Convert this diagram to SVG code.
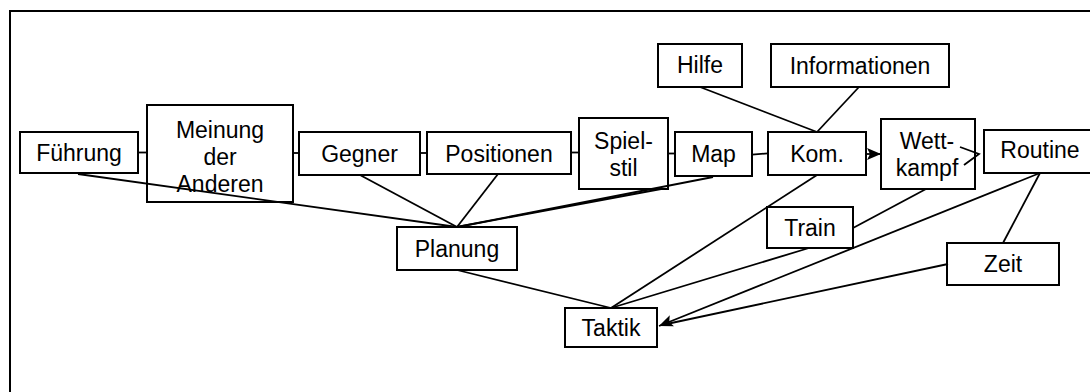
<svg xmlns="http://www.w3.org/2000/svg" width="1090" height="392" viewBox="0 0 1090 392">
<style>
.box{fill:#fff;stroke:#000;stroke-width:2}
.t{font-family:"Liberation Sans",Arial,sans-serif;font-size:23px;fill:#000;text-anchor:middle}
.c line,.c path{stroke:#000;stroke-width:1.8;fill:none}
</style>
<defs>
<marker id="ah" markerUnits="userSpaceOnUse" markerWidth="16" markerHeight="14" refX="14" refY="6" orient="auto">
<path d="M0,0 L14,6 L0,12 L3,6 Z" fill="#000"/>
</marker>
</defs>
<rect x="10" y="11" width="1100" height="400" fill="#fff" stroke="#000" stroke-width="2"/>
<g id="fuehrung"><rect class="box" x="20" y="132" width="118" height="41"/><text class="t" x="79" y="160.5">Führung</text></g>
<g id="meinung"><rect class="box" x="147" y="105" width="146" height="97"/><text class="t" x="220" y="138.3">Meinung</text><text class="t" x="220" y="165">der</text><text class="t" x="220" y="191.7">Anderen</text></g>
<g id="gegner"><rect class="box" x="299" y="132" width="121" height="43"/><text class="t" x="359.5" y="161.7">Gegner</text></g>
<g id="positionen"><rect class="box" x="427" y="132" width="144" height="42"/><text class="t" x="499" y="161.7">Positionen</text></g>
<g id="spielstil"><rect class="box" x="579" y="118" width="89" height="71"/><text class="t" x="623.5" y="149.3">Spiel-</text><text class="t" x="623.5" y="176">stil</text></g>
<g id="map"><rect class="box" x="675" y="132" width="77" height="44"/><text class="t" x="713.5" y="162">Map</text></g>
<g id="kom"><rect class="box" x="768" y="132" width="98" height="43"/><text class="t" x="817" y="161.7">Kom.</text></g>
<g id="hilfe"><rect class="box" x="658" y="44" width="84" height="43"/><text class="t" x="700" y="73.3">Hilfe</text></g>
<g id="informationen"><rect class="box" x="771" y="44" width="178" height="43"/><text class="t" x="860" y="74">Informationen</text></g>
<g id="wettkampf"><rect class="box" x="881" y="119" width="94" height="70"/><text class="t" x="927" y="149">Wett-</text><text class="t" x="927" y="175.7">kampf</text></g>
<g id="routine"><rect class="box" x="984" y="130" width="112" height="43"/><text class="t" x="1040" y="157.5">Routine</text></g>
<g id="train"><rect class="box" x="767" y="207" width="86" height="41"/><text class="t" x="810" y="236">Train</text></g>
<g id="zeit"><rect class="box" x="947" y="243" width="112" height="42"/><text class="t" x="1003" y="272">Zeit</text></g>
<g id="planung"><rect class="box" x="397" y="227" width="120" height="43"/><text class="t" x="457" y="256.5">Planung</text></g>
<g id="taktik"><rect class="box" x="565" y="308" width="92" height="39"/><text class="t" x="611" y="335.5">Taktik</text></g>
<g class="c" id="connectors">
<line x1="138" y1="152.5" x2="147" y2="152.5"/>
<line x1="293" y1="153" x2="299" y2="153"/>
<line x1="420" y1="153" x2="427" y2="153"/>
<line x1="571" y1="152.5" x2="579" y2="152.5"/>
<line x1="668" y1="153.5" x2="675" y2="153.5"/>
<line x1="752" y1="154.7" x2="768" y2="153.3"/>
<line x1="700" y1="87" x2="817" y2="132"/>
<line x1="859" y1="87" x2="817" y2="132"/>
<line x1="866" y1="154" x2="881" y2="154" marker-end="url(#ah)"/>
<path d="M960,147 L979,154 L964,165"/>
<line x1="78" y1="174" x2="457" y2="227"/>
<line x1="360" y1="175" x2="457" y2="227"/>
<line x1="498" y1="174" x2="457" y2="227"/>
<line x1="661" y1="189" x2="457" y2="227"/>
<line x1="713" y1="177" x2="457" y2="227"/>
<line x1="457" y1="270" x2="611" y2="308"/>
<line x1="817" y1="175" x2="611" y2="308"/>
<line x1="809" y1="248" x2="611" y2="308"/>
<line x1="926" y1="189" x2="853" y2="228"/>
<line x1="1040" y1="173" x2="1003" y2="243"/>
<line x1="948" y1="264" x2="662" y2="325"/>
<line x1="1040" y1="173" x2="659" y2="326" marker-end="url(#ah)"/>
</g>
</svg>
